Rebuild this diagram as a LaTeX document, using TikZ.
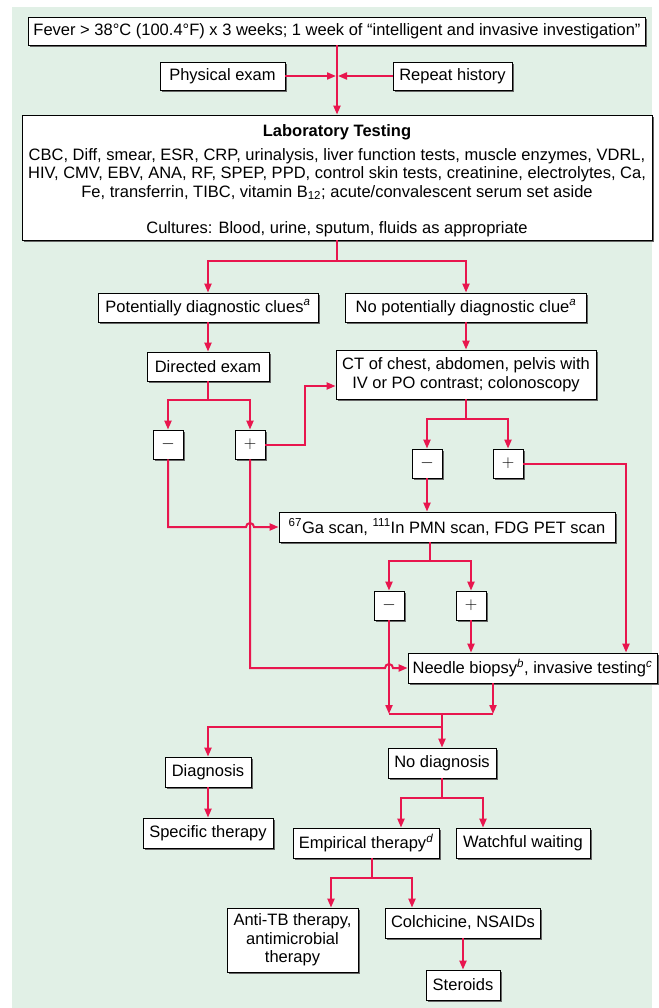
\documentclass[tikz,border=0pt]{standalone}
\usepackage{fontspec}
\setmainfont{Liberation Sans}
\usetikzlibrary{arrows.meta,shadows}
\definecolor{bg}{RGB}{225,240,230}
\definecolor{lnk}{RGB}{232,22,78}
\begin{document}
\begin{tikzpicture}[x=1pt,y=-1pt,
  box/.style={draw=black, line width=0.8pt, fill=white,
    drop shadow={shadow xshift=1.8pt,shadow yshift=-1.8pt,fill=black!60,opacity=1},
    inner sep=0pt, align=center, font=\fontsize{16.5}{18.5}\selectfont},
  ln/.style={draw=lnk, line width=2pt},
  arr/.style={ln, -{Triangle[length=9pt,width=7pt]}},
]
\useasboundingbox (0,0) rectangle (658,1008);
\fill[bg] (12,7) rectangle (652,1008);

% boxes
\node[box, minimum width=617pt, minimum height=28pt] (top) at (337,31)
  {Fever > 38°C (100.4°F) x 3 weeks; 1 week of “intelligent and invasive investigation”};
\node[box, minimum width=125pt, minimum height=28pt] (phys) at (222.5,76) {Physical exam};
\node[box, minimum width=119pt, minimum height=28pt] (rep) at (452.5,76) {Repeat history};
\node[box, minimum width=630pt, minimum height=125pt] (lab) at (337,177.5)
  {\rule{0pt}{18pt}\textbf{Laboratory Testing}\\[5.5pt]
   CBC, Diff, smear, ESR, CRP, urinalysis, liver function tests, muscle enzymes, VDRL,\\
   HIV, CMV, EBV, ANA, RF, SPEP, PPD, control skin tests, creatinine, electrolytes, Ca,\\
   Fe, transferrin, TIBC, vitamin B\textsubscript{12}; acute/convalescent serum set aside\\[17.5pt]
   Cultures: Blood, urine, sputum, fluids as appropriate};
\node[box, minimum width=220pt, minimum height=29pt] (pot) at (208,307.5)
  {Potentially diagnostic clues\textsuperscript{\itshape a}};
\node[box, minimum width=241pt, minimum height=29pt] (nopot) at (466,307.5)
  {No potentially diagnostic clue\textsuperscript{\itshape a}};
\node[box, minimum width=122pt, minimum height=29pt] (dir) at (208,366.5) {Directed exam};
\node[box, minimum width=260pt, minimum height=49pt] (ct) at (466,374.5)
  {CT of chest, abdomen, pelvis with\\IV or PO contrast; colonoscopy};
\node[box, minimum width=30pt, minimum height=29pt] (m1) at (168,444.5) {$-$};
\node[box, minimum width=30pt, minimum height=29pt] (p1) at (250,444.5) {$+$};
\node[box, minimum width=30pt, minimum height=29pt] (m2) at (427,463.5) {$-$};
\node[box, minimum width=30pt, minimum height=29pt] (p2) at (508,463.5) {$+$};
\node[box, minimum width=336pt, minimum height=30pt] (ga) at (447,527)
  {\textsuperscript{67}Ga scan, \textsuperscript{111}In PMN scan, FDG PET scan};
\node[box, minimum width=30pt, minimum height=29pt] (m3) at (389,605.5) {$-$};
\node[box, minimum width=30pt, minimum height=29pt] (p3) at (471,605.5) {$+$};
\node[box, minimum width=249pt, minimum height=30pt] (needle) at (532.5,668)
  {Needle biopsy\textsuperscript{\itshape b}, invasive testing\textsuperscript{\itshape c}};
\node[box, minimum width=86pt, minimum height=30pt] (diag) at (208,772) {Diagnosis};
\node[box, minimum width=130pt, minimum height=30pt] (spec) at (208,833) {Specific therapy};
\node[box, minimum width=108pt, minimum height=30pt] (nodiag) at (442,763) {No diagnosis};
\node[box, minimum width=146pt, minimum height=30pt] (emp) at (366,843)
  {Empirical therapy\textsuperscript{\itshape d}};
\node[box, minimum width=134pt, minimum height=30pt] (watch) at (523,843) {Watchful waiting};
\node[box, minimum width=131pt, minimum height=64pt] (anti) at (292.5,940)
  {Anti-TB therapy,\\antimicrobial\\therapy};
\node[box, minimum width=155pt, minimum height=30pt] (colch) at (463,923) {Colchicine, NSAIDs};
\node[box, minimum width=74pt, minimum height=30pt] (ster) at (463,985) {Steroids};

% helper coordinates
\coordinate (j0) at (337,76);
\coordinate (j1) at (337,261);
\coordinate (j2) at (208,400);
\coordinate (c1) at (305,386);
\coordinate (j3) at (466,419);
\coordinate (c2) at (626,0);
\coordinate (j4) at (430,561);
\coordinate (h1) at (p1.south |- ga.west);
\coordinate (h2) at (m3.south |- needle.west);
\coordinate (j5) at (442,714);
\coordinate (c3) at (493,0);
\coordinate (j6) at (442,727);
\coordinate (j7) at (442,798);
\coordinate (e1) at (401,0);
\coordinate (w1) at (483,0);
\coordinate (j8) at (372,878);
\coordinate (a1) at (331,0);
\coordinate (k1) at (412,0);

% connectors
\draw[arr] (top.south) -- (top.south |- lab.north);
\draw[arr] (phys.east) -- ([xshift=-1pt]j0);
\draw[arr] (rep.west) -- ([xshift=1pt]j0);
\draw[ln] (lab.south) -- (j1);
\draw[arr] (j1) -| (pot.north);
\draw[arr] (j1) -| (nopot.north);
\draw[arr] (pot.south) -- (dir.north);
\draw[arr] (nopot.south) -- (ct.north);
\draw[ln] (dir.south) -- (j2);
\draw[arr] (j2) -| (m1.north);
\draw[arr] (j2) -| (p1.north);
\draw[arr] (p1.east) -| (c1) -- (c1 -| ct.west);
\draw[ln] (ct.south) -- (j3);
\draw[arr] (j3) -| (m2.north);
\draw[arr] (j3) -| (p2.north);
\draw[arr] (m2.south) -- (m2.south |- ga.north);
\draw[arr] (p2.east) -| (c2 |- needle.north);
\draw[arr] (m1.south) |- ([xshift=-4pt]h1) arc[start angle=180,end angle=0,radius=4pt] -- (ga.west);
\draw[ln] (j4 |- ga.south) -- (j4);
\draw[arr] (j4) -| (m3.north);
\draw[arr] (j4) -| (p3.north);
\draw[arr] (p3.south) -- (p3.south |- needle.north);
\draw[arr] (p1.south) |- ([xshift=-4pt]h2) arc[start angle=180,end angle=0,radius=4pt] -- (needle.west);
\draw[ln] (m3.south |- j5) -- (c3 |- j5);
\draw[arr] (m3.south) -- (m3.south |- j5);
\draw[arr] (c3 |- needle.south) -- (c3 |- j5);
\draw[ln] (j5) -- (j6);
\draw[arr] (j6) -| (diag.north);
\draw[arr] (j6) -- (nodiag.north);
\draw[arr] (diag.south) -- (spec.north);
\draw[ln] (nodiag.south) -- (j7);
\draw[arr] (j7) -| (e1 |- emp.north);
\draw[arr] (j7) -| (w1 |- watch.north);
\draw[ln] (j8 |- emp.south) -- (j8);
\draw[arr] (j8) -| (a1 |- anti.north);
\draw[arr] (j8) -| (k1 |- colch.north);
\draw[arr] (colch.south) -- (ster.north);
\end{tikzpicture}
\end{document}
